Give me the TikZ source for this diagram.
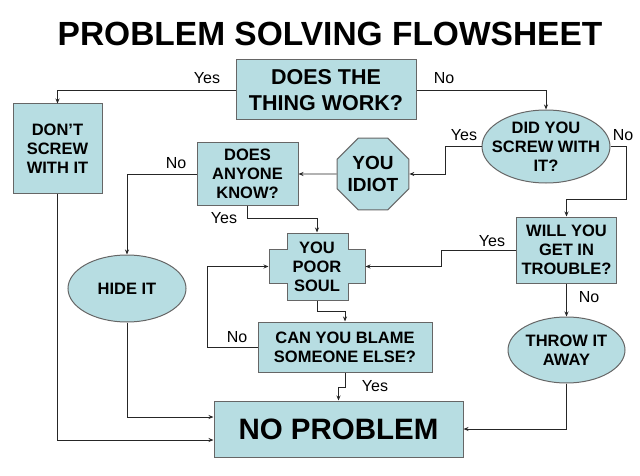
\documentclass[tikz,border=0pt]{standalone}
\usepackage{fontspec}
\setmainfont{Liberation Sans}
\usetikzlibrary{shapes.geometric, arrows.meta}
\definecolor{flowfill}{RGB}{183,221,226}

\begin{document}
\begin{tikzpicture}[x = 1pt, y = -1pt,
        box/.style = {rectangle, draw = black!60, fill = flowfill, line width = 1pt, align = center, inner sep = 0pt, font = \bfseries\fontsize{16.5}{19}\selectfont},
        oval/.style = {box, ellipse, inner sep = -10pt},
        arr/.style = {-{Stealth[length = 5pt, width = 4pt]}, color = black!85, line width = 0.8pt},
        lbl/.style = {inner sep = 0pt, font = \fontsize{16}{19}\selectfont}]
        \useasboundingbox (0, 0) rectangle (640, 476);
        \node (title) at (330, 34) [inner sep = 0pt, font = \bfseries\fontsize{33.5}{40}\selectfont] {PROBLEM SOLVING FLOWSHEET};
        \node (work) at (326, 90) [box, minimum width = 180, minimum height = 60, font = \bfseries\fontsize{21.5}{26}\selectfont] {DOES THE\\THING WORK?};
        \node (dont) at (57.5, 148.5) [box, minimum width = 89, minimum height = 89] {DON’T\\SCREW\\WITH IT};
        \node (screw) at (546, 146.5) [oval, minimum width = 128, minimum height = 73] {DID YOU\\SCREW WITH\\IT?};
        \node (idiot) at (373, 174) [box, regular polygon, regular polygon sides = 8, minimum size = 76, font = \bfseries\fontsize{19}{22}\selectfont] {YOU\\IDIOT};
        \node (anyone) at (247.5, 174) [box, minimum width = 101, minimum height = 62] {DOES\\ANYONE\\KNOW?};
        \filldraw[color = black!60, fill = flowfill, line width = 1pt] (269, 249) -- (287, 249) -- (287, 233) -- (348, 233) -- (348, 249) -- (365, 249) -- (365, 283) -- (348, 283) -- (348, 300) -- (287, 300) -- (287, 283) -- (269, 283) -- cycle;
        \node (soul) at (317, 266.5) [box, draw = none, fill = none, minimum width = 96, minimum height = 67] {YOU\\POOR\\SOUL};
        \node (trouble) at (566.5, 250) [box, minimum width = 100, minimum height = 66] {WILL YOU\\GET IN\\TROUBLE?};
        \node (hide) at (127, 288.5) [oval, minimum width = 118, minimum height = 67] {HIDE IT};
        \node (blame) at (345, 347) [box, minimum width = 174, minimum height = 50] {CAN YOU BLAME\\SOMEONE ELSE?};
        \node (throw) at (566.5, 350) [oval, minimum width = 117, minimum height = 66] {THROW IT\\AWAY};
        \node (noprob) at (338.5, 429) [box, minimum width = 249, minimum height = 56, font = \bfseries\fontsize{29.5}{34}\selectfont] {NO PROBLEM};

        \draw[arr] (work.west) -| (dont.north);
        \draw[arr] (work.east) -| (screw.north);
        \draw[arr] (screw.west) -- ++(-36, 0) |- (idiot.east);
        \draw[arr] (screw.east) -- ++(16, 0) -- ++(0, 53) -| (trouble.north);
        \draw[arr] (idiot.west) -- (anyone.east);
        \draw[arr] (anyone.west) -| (hide.north);
        \draw[arr] (anyone.south) -- ++(0, 13) -| (soul.north);
        \draw[arr] (trouble.west) -- ++(-75, 0) |- (soul.east);
        \draw[arr] (trouble.south) -- (throw.north);
        \draw[arr] (soul.south) -- ++(0, 11) -| (blame.north);
        \draw[arr] (blame.west) -- ++(-50, 0) |- (soul.west);
        \draw[arr] (blame.south) -- ++(0, 15) -| (noprob.north);
        \draw[arr] (hide.south) |- ([yshift = 12pt] noprob.west);
        \draw[arr] (dont.south) |- ([yshift = -11pt] noprob.west);
        \draw[arr] (throw.south) |- (noprob.east);

        \node (yeswork) at (207, 78) [lbl] {Yes};
        \node (nowork) at (444, 78) [lbl] {No};
        \node (yesscrew) at (464, 135) [lbl] {Yes};
        \node (noscrew) at (623, 135) [lbl] {No};
        \node (noknow) at (176, 163) [lbl] {No};
        \node (yesknow) at (224, 218) [lbl] {Yes};
        \node (yestrouble) at (492, 241) [lbl] {Yes};
        \node (notrouble) at (589, 297) [lbl] {No};
        \node (noblame) at (237, 337) [lbl] {No};
        \node (yesblame) at (375, 386) [lbl] {Yes};
    \end{tikzpicture}
\end{document}
